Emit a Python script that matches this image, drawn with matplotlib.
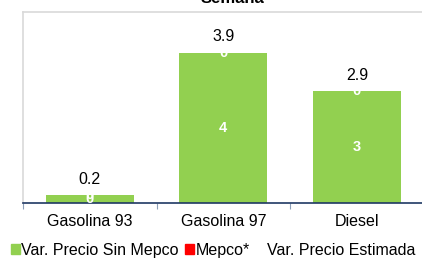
import matplotlib
matplotlib.use('Agg')
import matplotlib.pyplot as plt
from matplotlib.lines import Line2D
from matplotlib.patches import Patch
import numpy as np

plt.rcParams['font.family'] = ['Liberation Sans', 'DejaVu Sans']

categories = ['Gasolina 93', 'Gasolina 97', 'Diesel']
sin_mepco = [0.2, 3.9, 2.9]
mepco = [0.0, 0.0, 0.0]
estimada = [0.2, 3.9, 2.9]

green = '#92d050'
red = '#ff0000'

fig = plt.figure(figsize=(4.22, 2.58), dpi=100)
ax = fig.add_axes([0.0545, 0.213, 0.9495, 0.740])

x = np.arange(len(categories))
w = 0.66
ax.bar(x, sin_mepco, w, color=green)
ax.bar(x, mepco, w, bottom=sin_mepco, color=red)

# white value labels inside the stacks
for xi, v in zip(x, sin_mepco):
    ax.text(xi, v / 2, '%d' % round(v), ha='center', va='center',
            color='white', fontsize=10.5, fontweight='bold')
for xi, v, b in zip(x, mepco, sin_mepco):
    ax.text(xi, b + v / 2, '%d' % round(v), ha='center', va='center',
            color='white', fontsize=10.5, fontweight='bold')

# estimated total above bars
for xi, v in zip(x, estimada):
    ax.text(xi, v + 0.42, '%.1f' % v, ha='center', va='center',
            color='black', fontsize=11.5)

ax.set_xlim(-0.5, 2.5)
ax.set_ylim(0, 4.96)
ax.set_yticks([])
ax.set_xticks(x)
ax.set_xticklabels(categories, fontsize=11.5)
ax.set_xticks([-0.5, 0.5, 1.5, 2.5], minor=True)
ax.tick_params(axis='x', which='major', length=0, pad=8)
ax.tick_params(axis='x', which='minor', length=4, color='#8ea0b8', width=0.8)

for s in ['top', 'left', 'right']:
    ax.spines[s].set_color('#d9d9d9')
    ax.spines[s].set_linewidth(1.2)
ax.spines['bottom'].set_color('#1f3864')
ax.spines['bottom'].set_linewidth(1.2)

fig.text(0.55, 1.004, 'Semana', ha='center', va='center',
         fontsize=12, fontweight='bold')

handles = [Patch(color=green), Patch(color=red),
           Line2D([], [], color='none')]
labels = ['Var. Precio Sin Mepco', 'Mepco*', 'Var. Precio Estimada']
fig.legend(handles, labels, loc='center', bbox_to_anchor=(0.505, 0.03),
           ncol=3, frameon=False, fontsize=11.5, handlelength=0.55,
           handleheight=0.55, handletextpad=0.1, columnspacing=0.4,
           borderaxespad=0)

fig.savefig('out.png', dpi=100)
